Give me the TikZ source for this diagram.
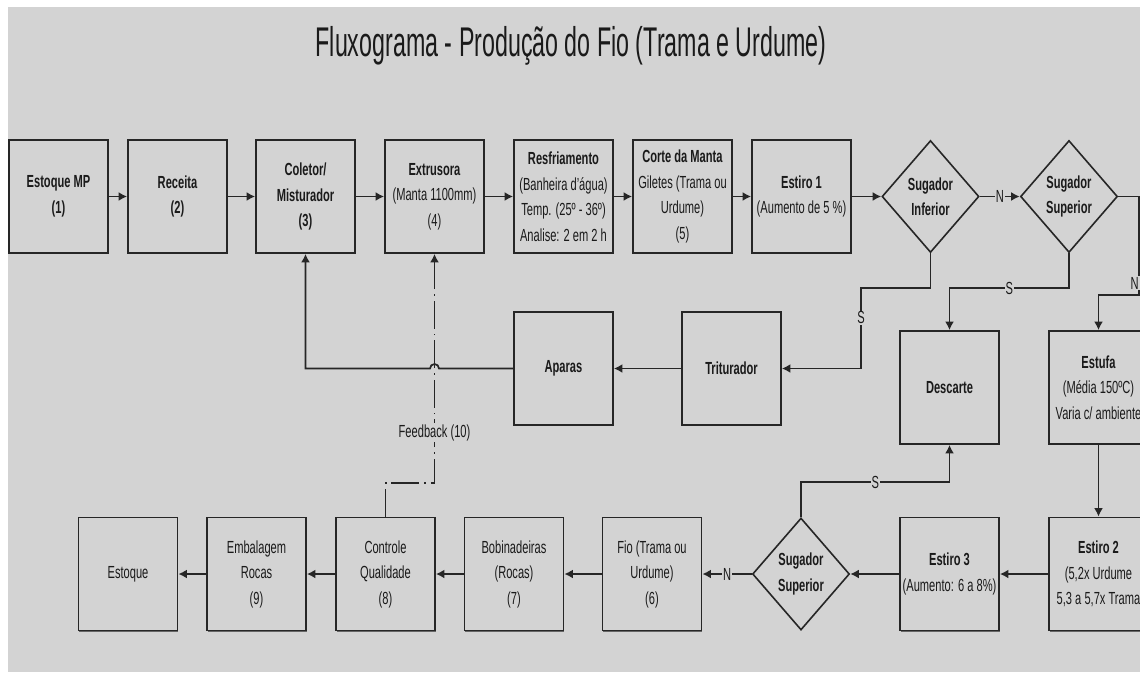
\documentclass[tikz,border=0pt]{standalone}
\usepackage{fontspec}
\setmainfont{Liberation Sans}[FakeStretch=0.635]
\newfontfamily\titlefam{Liberation Sans}[FakeStretch=0.56]
\usetikzlibrary{shapes.geometric,arrows.meta,shadows}
\definecolor{bgc}{HTML}{D3D3D3}
\definecolor{linec}{HTML}{262626}
\definecolor{txtc}{HTML}{1A1A1A}
\newcommand\boxfont{\fontsize{17.5}{25.5}\selectfont}
\newcommand\titlefont{\titlefam\fontsize{41.5}{48}\selectfont}
\begin{document}
\begin{tikzpicture}[x=1pt,y=-1pt,
  box/.style={draw=linec,line width=1.8pt,fill=bgc,minimum width=99pt,minimum height=113pt,
    inner sep=0pt,align=center,font=\boxfont,text=txtc,
    drop shadow={shadow xshift=0.6pt,shadow yshift=-1.4pt,fill=black!60,opacity=1}},
  bbox/.style={box,font=\boxfont\bfseries},
  dia/.style={diamond,draw=linec,line width=1.6pt,fill=bgc,minimum width=97pt,minimum height=112pt,
    inner sep=0pt,align=center,font=\boxfont\bfseries,text=txtc},
  conn/.style={draw=linec,line width=1.7pt,-{Latex[length=8.5pt,width=9pt]}},
  fb/.style={conn,dash pattern=on 28pt off 5pt on 1.5pt off 5pt},
  lbl/.style={fill=bgc,inner sep=1pt,font=\boxfont,text=txtc},
]
\useasboundingbox (0,0) rectangle (1140,672);
\clip (0,0) rectangle (1140,672);
\fill[white] (0,0) rectangle (1140,672);
\fill[bgc] (8,7) rectangle (1140,672);

\node[font=\titlefont,text=txtc,anchor=base,inner sep=0pt] (title) at (571,56.5) {Fluxograma - Produção do Fio (Trama e Urdume)};

% top row
\node[bbox] (emp) at (58.5,196.5) {Estoque MP\\(1)};
\node[bbox] (rec) at (177.5,196.5) {Receita\\(2)};
\node[bbox] (col) at (305.5,196.5) {Coletor/\\Misturador\\(3)};
\node[box] (ext) at (434.5,196.5) {\textbf{Extrusora}\\(Manta 1100mm)\\(4)};
\node[box] (res) at (563.5,196.5) {\textbf{Resfriamento}\\(Banheira d’água)\\Temp. (25º - 36º)\\Analise: 2 em 2 h};
\node[box] (cor) at (682.5,196.5) {\textbf{Corte da Manta}\\Giletes (Trama ou\\Urdume)\\(5)};
\node[box] (es1) at (801.5,196.5) {\textbf{Estiro 1}\\(Aumento de 5 \%)};
\node[dia] (si) at (930.5,196.5) {Sugador\\Inferior};
\node[dia] (ss) at (1069,196.5) {Sugador\\Superior};

% middle row
\node[bbox] (tri) at (731.5,368.5) {Triturador};
\node[bbox] (apa) at (563.5,368.5) {Aparas};
\node[bbox] (des) at (949.5,387.5) {Descarte};
\node[box] (est) at (1098.5,387.5) {\textbf{Estufa}\\(Média 150ºC)\\Varia c/ ambiente};

% bottom row
\node[box] (estq) at (128,574) {Estoque};
\node[box] (emb) at (256.5,574) {Embalagem\\Rocas\\(9)};
\node[box] (ctl) at (385.5,574) {Controle\\Qualidade\\(8)};
\node[box] (bob) at (514,574) {Bobinadeiras\\(Rocas)\\(7)};
\node[box] (fio) at (652,574) {Fio (Trama ou\\Urdume)\\(6)};
\node[dia] (sgb) at (801,574) {Sugador\\Superior};
\node[box] (es3) at (949.5,574) {\textbf{Estiro 3}\\(Aumento: 6 a 8\%)};
\node[box] (es2) at (1098.5,574) {\textbf{Estiro 2}\\(5,2x Urdume\\5,3 a 5,7x Trama};

% coordinates for routing
\coordinate (rt) at (1139,295);
\coordinate (sj) at (861,288);
\coordinate (bj) at (875,482);
\coordinate (fbk) at (434.5,483);
\path (ext.south |- apa.west) ++(4.5pt,0) coordinate (hopR);

% top row connectors
\draw[conn] (emp.east) -- (rec.west);
\draw[conn] (rec.east) -- (col.west);
\draw[conn] (col.east) -- (ext.west);
\draw[conn] (ext.east) -- (res.west);
\draw[conn] (res.east) -- (cor.west);
\draw[conn] (cor.east) -- (es1.west);
\draw[conn] (es1.east) -- (si.west);
\draw[conn] (si.east) -- node[lbl]{N} (ss.west);
\draw[conn] (ss.east) -| (rt) -- (est.north |- rt) -- (est.north);
\node[lbl] (nlab) at (1134.5,283) {N};
\draw[conn] (si.south) |- (sj) -- node[lbl,pos=0.37]{S} (sj |- tri.east) -- (tri.east);
\draw[conn] (ss.south) |- node[lbl,pos=0.75]{S} (des.north |- sj) -- (des.north);

% middle
\draw[conn] (tri.west) -- (apa.east);
\draw[fb] (ctl.north) |- (fbk) -- node[lbl,pos=0.22]{Feedback (10)} (ext.south);
\draw[conn] (apa.west) -- (hopR) arc[start angle=0,end angle=180,radius=4.5pt] -- (col.south |- apa.west) -- (col.south);
\draw[conn] (est.south) -- (es2.north);

% bottom row
\draw[conn] (es2.west) -- (es3.east);
\draw[conn] (es3.west) -- (sgb.east);
\draw[conn] (sgb.west) -- node[lbl]{N} (fio.east);
\draw[conn] (fio.west) -- (bob.east);
\draw[conn] (bob.west) -- (ctl.east);
\draw[conn] (ctl.west) -- (emb.east);
\draw[conn] (emb.west) -- (estq.east);
\draw[conn] (sgb.north) -- (sgb.north |- bj) -- node[lbl]{S} (des.south |- bj) -- (des.south);
\end{tikzpicture}
\end{document}
